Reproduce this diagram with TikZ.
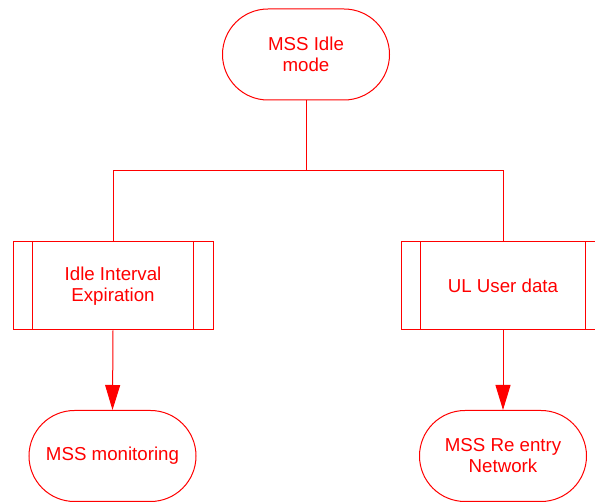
\documentclass[tikz,border=0pt]{standalone}
\usepackage{fontspec}
\setmainfont{Liberation Sans}
\usetikzlibrary{shapes.misc,arrows.meta}

\tikzset{
  flow/.style={draw=red, line width=1pt, text=red, font=\fontsize{18.7}{21}\selectfont, align=center},
  terminal/.style={flow, rounded rectangle, minimum width=167pt, minimum height=91pt, inner sep=0pt},
  process/.style={flow, rectangle, minimum width=200pt, minimum height=88pt, inner sep=0pt},
  link/.style={draw=red, line width=1pt},
  arrowlink/.style={link, -{Triangle[length=25pt,width=15pt]}}
}

\begin{document}
\begin{tikzpicture}[x=1pt,y=-1pt]
\useasboundingbox (0,0) rectangle (595,502);
\node[terminal] (Idle) at (306,54.5) {MSS Idle\\mode};
\node[process] (Expire) at (113,286) {Idle Interval\\Expiration};
\node[process, minimum width=204pt] (ULdata) at (503,286) {UL User data};
\node[terminal] (Monitor) at (112.5,456) {MSS monitoring};
\node[terminal] (Reentry) at (503,456) {MSS Re entry\\Network};
\coordinate (Split) at (306,171);

% inner bars of the process boxes
\draw[link] ([xshift=20pt]Expire.north west) -- ([xshift=20pt]Expire.south west);
\draw[link] ([xshift=-20pt]Expire.north east) -- ([xshift=-20pt]Expire.south east);
\draw[link] ([xshift=20pt]ULdata.north west) -- ([xshift=20pt]ULdata.south west);
\draw[link] ([xshift=-20pt]ULdata.north east) -- ([xshift=-20pt]ULdata.south east);

\draw[link] (Idle.south) -- (Split) -| (Expire.north);
\draw[link] (Split) -| (ULdata.north);
\draw[arrowlink] (Expire.south) -- (Monitor.north);
\draw[arrowlink] (ULdata.south) -- (Reentry.north);
\end{tikzpicture}
\end{document}
